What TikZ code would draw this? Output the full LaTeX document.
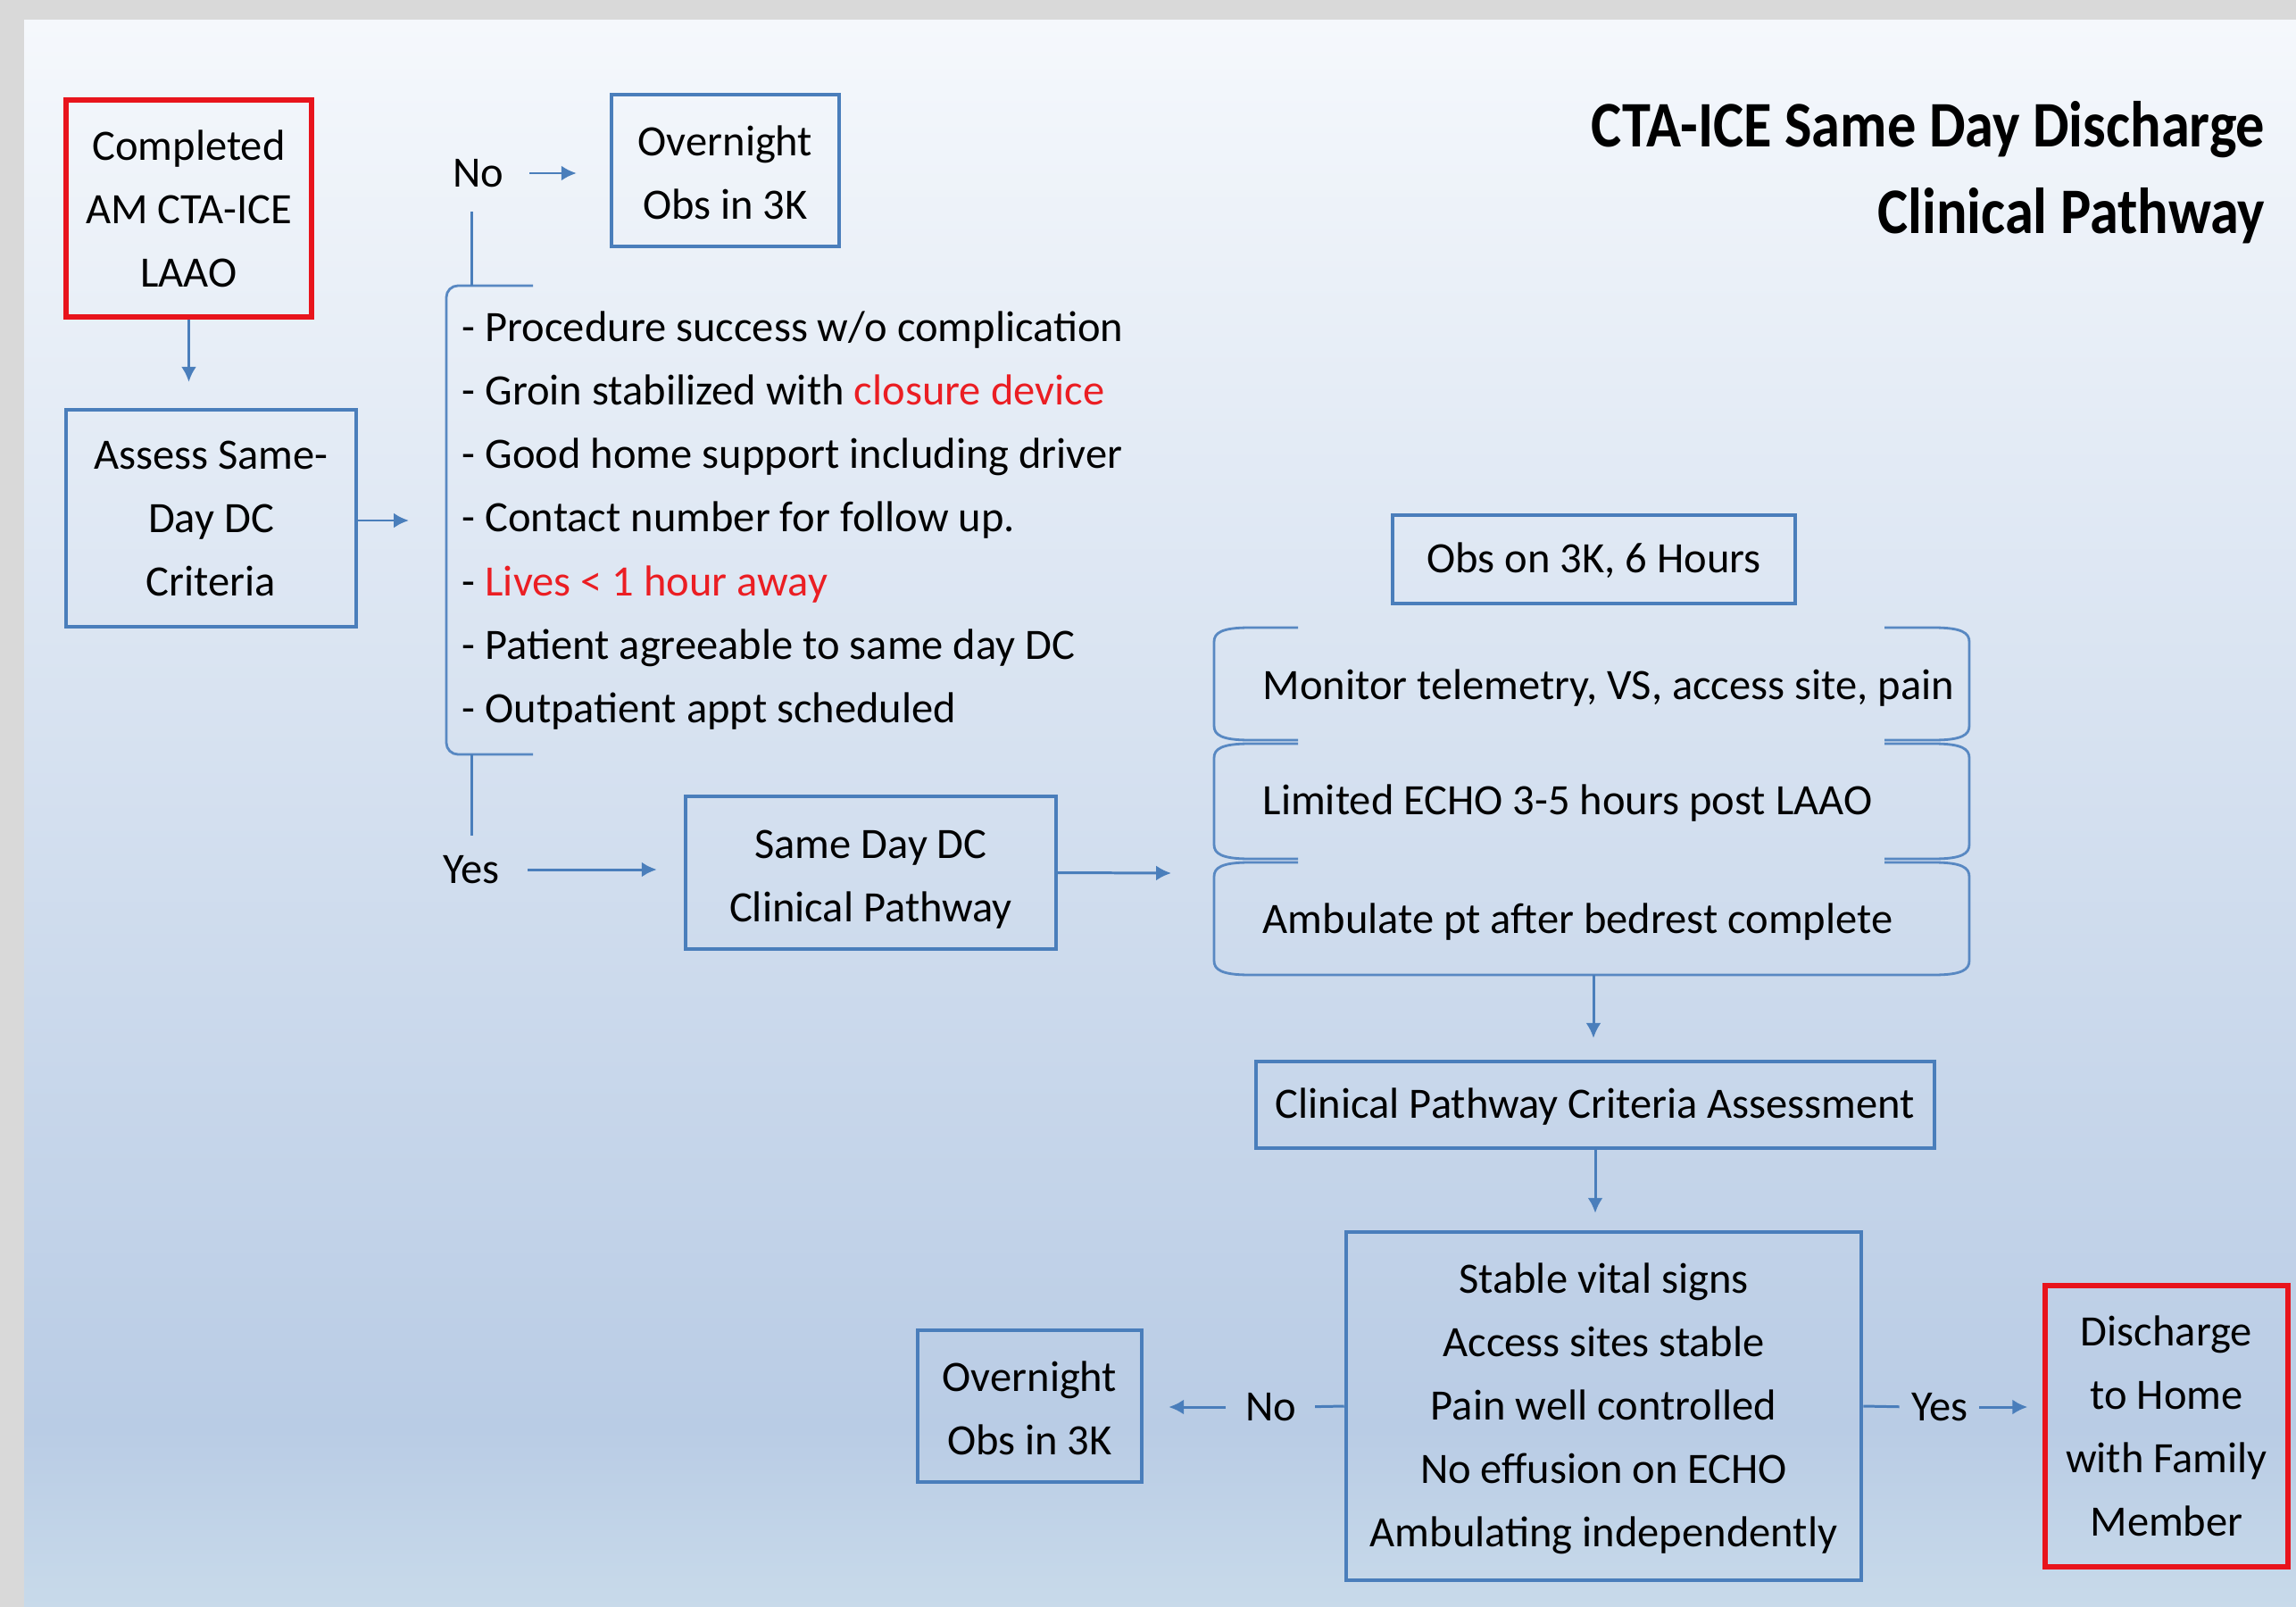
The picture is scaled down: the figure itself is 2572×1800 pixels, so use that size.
\documentclass[tikz,border=0pt]{standalone}
\usepackage{fontspec}
\setmainfont{Carlito}
\newfontfamily\titlefont[FakeStretch=0.885]{Carlito}
\usetikzlibrary{arrows.meta}
\definecolor{pblue}{RGB}{74,126,187}
\definecolor{bblue}{RGB}{88,136,194}
\definecolor{pred}{RGB}{232,20,28}
\definecolor{tred}{RGB}{235,30,35}
\definecolor{gborder}{RGB}{217,217,217}
\definecolor{bgtop}{RGB}{245,248,252}
\definecolor{bgmid}{RGB}{185,204,229}
\definecolor{bgbot}{RGB}{200,218,234}
\begin{document}
\begin{tikzpicture}[x=0.01cm,y=-0.01cm,
  txt/.style={font=\fontsize{13.8}{20.2}\selectfont, inner sep=0pt, align=center},
  one/.style={text height=0.95em, text depth=0.1em},
  bbox/.style={txt, draw=pblue, line width=1.2pt},
  rbox/.style={txt, draw=pred, line width=1.5pt},
  conn/.style={draw=pblue, line width=0.85pt},
  arr/.style={conn, -{Latex[length=4.8pt,width=4.8pt]}},
  brk/.style={draw=bblue, line width=0.8pt},
]
\useasboundingbox (0,0) rectangle (2572,1800);
% background
\fill[gborder] (0,0) rectangle (2572,1800);
\shade[top color=bgtop, bottom color=bgmid] (27,23) rectangle (2572,1601);
\shade[top color=bgmid, bottom color=bgbot] (27,1600) rectangle (2572,1800);

% title
\node[font=\fontsize{20.7}{27.5}\titlefont\bfseries, align=right, anchor=east, inner sep=0pt] (title) at (2538,193) {CTA-ICE Same Day Discharge\\Clinical Pathway};

% boxes
\node[rbox, minimum width=2.75cm, minimum height=2.43cm] (b1) at (211.5,233.5) {Completed\\AM CTA-ICE\\LAAO};
\node[bbox, minimum width=3.25cm, minimum height=2.43cm] (b2) at (236.5,580.5) {Assess Same-\\Day DC\\Criteria};
\node[bbox, minimum width=2.55cm, minimum height=1.70cm] (b3) at (812.5,191) {\rule{0pt}{0.8em}Overnight\\Obs in 3K};
\node[bbox, minimum width=4.15cm, minimum height=1.71cm] (b4) at (975.5,977.5) {\rule{0pt}{0.95em}Same Day DC\\Clinical Pathway};
\node[bbox, one, minimum width=4.51cm, minimum height=0.99cm] (b5) at (1785.5,626.5) {Obs on 3K, 6 Hours};
\node[bbox, one, minimum width=7.60cm, minimum height=0.97cm] (b6) at (1787,1237.5) {Clinical Pathway Criteria Assessment};
\node[bbox, minimum width=5.77cm, minimum height=3.90cm] (b7) at (1796.5,1575) {\rule{0pt}{0.8em}Stable vital signs\\Access sites stable\\Pain well controlled\\No effusion on ECHO\\Ambulating independently};
\node[bbox, minimum width=2.51cm, minimum height=1.70cm] (b8) at (1153.5,1575) {\rule{0pt}{0.8em}Overnight\\Obs in 3K};
\node[rbox, minimum width=2.72cm, minimum height=3.15cm] (b9) at (2427,1597.5) {Discharge\\to Home\\with Family\\Member};

% criteria list
\node[txt, align=left, anchor=west, font=\fontsize{13.8}{20.24}\selectfont] (list) at (517,583) {- Procedure success w/o complication\\
- Groin stabilized with \textcolor{tred}{closure device}\\
- Good home support including driver\\
- Contact number for follow up.\\
- \textcolor{tred}{Lives < 1 hour away}\\
- Patient agreeable to same day DC\\
- Outpatient appt scheduled};
\draw[brk, rounded corners=0.13cm] (597,320) -- (500,320) -- (500,845) -- (597,845);
\coordinate (lt) at (528,320);
\coordinate (lb) at (528,845);
\coordinate (lin) at (458,583);

% labels
\node[txt] (no1) at (536,194) {No};
\node[txt] (yes1) at (528,974) {Yes};
\node[txt] (no2) at (1424,1576) {No};
\node[txt] (yes2) at (2173,1576) {Yes};

% stacked brackets
\foreach \T/\B in {703/829, 833/962} {
  \draw[brk] (1454,\T) -- (1400,\T) .. controls (1368,\T) and (1360,\T+6) .. (1360,\T+16) -- (1360,\B-16) .. controls (1360,\B-6) and (1368,\B) .. (1400,\B) -- (1454,\B);
  \draw[brk] (2111,\T) -- (2166,\T) .. controls (2198,\T) and (2206,\T+6) .. (2206,\T+16) -- (2206,\B-16) .. controls (2206,\B-6) and (2198,\B) .. (2166,\B) -- (2111,\B);
}
\draw[brk] (1454,966) -- (1400,966) .. controls (1368,966) and (1360,972) .. (1360,982) -- (1360,1076) .. controls (1360,1086) and (1368,1092) .. (1400,1092) -- (2166,1092) .. controls (2198,1092) and (2206,1086) .. (2206,1076) -- (2206,982) .. controls (2206,972) and (2198,966) .. (2166,966) -- (2111,966);
\node[txt, anchor=west] (m1) at (1414,771) {Monitor telemetry, VS, access site, pain};
\node[txt, anchor=west] (m2) at (1414,900) {Limited ECHO 3-5 hours post LAAO};
\node[txt, anchor=west] (m3) at (1414,1033) {Ambulate pt after bedrest complete};
\coordinate (bin) at (1312,978);
\coordinate (bout) at (1785,1092);

% connectors
\draw[arr, shorten >=0.29cm] (b1.south) -- (b1.south |- b2.north);
\draw[arr] (b2.east |- lin) -- (lin);
\draw[conn, shorten >=0.27cm] (lt) -- (lt |- no1.south);
\draw[arr, shorten <=0.28cm, shorten >=0.37cm] (no1.east) -- (no1.east -| b3.west);
\draw[conn, shorten >=0.22cm] (lb) -- (lb |- yes1.north);
\draw[arr, shorten <=0.31cm, shorten >=0.30cm] (yes1.east) -- (yes1.east -| b4.west);
\draw[arr] (b4.east) -- (bin);
\draw[arr, shorten >=0.24cm] (bout) -- (bout |- b6.north);
\draw[arr, shorten >=0.19cm] (b6.south) -- (b6.south |- b7.north);
\draw[conn, shorten >=0.2cm] (b7.west) -- (no2.east);
\draw[arr, shorten <=0.22cm, shorten >=0.28cm] (no2.west) -- (no2.west -| b8.east);
\draw[conn, shorten >=0.13cm] (b7.east) -- (yes2.west);
\draw[arr, shorten <=0.12cm, shorten >=0.17cm] (yes2.east) -- (yes2.east -| b9.west);
\end{tikzpicture}
\end{document}
